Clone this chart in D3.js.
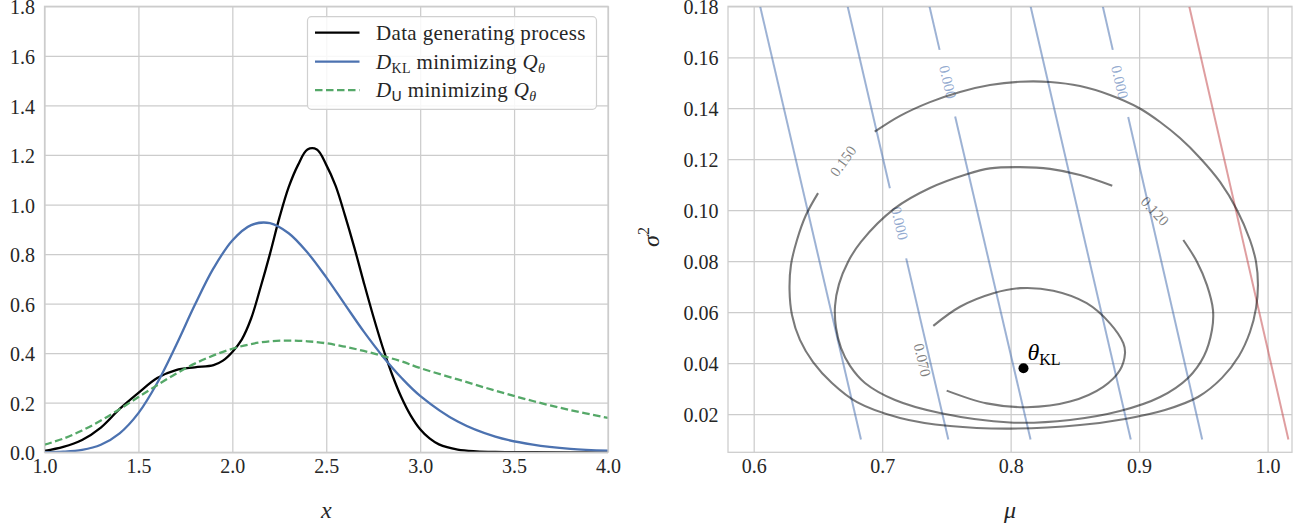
<!DOCTYPE html>
<html><head><meta charset="utf-8">
<script src="https://cdn.jsdelivr.net/npm/d3@7"></script>
<style>
body{margin:0;background:#fff;}
svg{display:block;font-family:"Liberation Serif","DejaVu Serif",serif;}
</style></head><body>
<svg id="chart" width="1299" height="529"></svg>
<script>
// ---------------- DATA ----------------
const xTicksLeft = [1.0, 1.5, 2.0, 2.5, 3.0, 3.5, 4.0];
const yTicksLeft = [0.0, 0.2, 0.4, 0.6, 0.8, 1.0, 1.2, 1.4, 1.6, 1.8];
const muTicks = [0.6, 0.7, 0.8, 0.9, 1.0];
const sigmaTicks = [0.02, 0.04, 0.06, 0.08, 0.10, 0.12, 0.14, 0.16, 0.18];

const seriesNames = ["Data generating process", "D_KL minimizing Q_theta", "D_U minimizing Q_theta"];

// data generating process (black)
const dgpX = [1.0, 1.1, 1.2, 1.3, 1.4, 1.5, 1.6, 1.7, 1.8, 1.9, 1.95, 2.0, 2.05, 2.1, 2.15, 2.2, 2.25, 2.3, 2.35, 2.4, 2.45, 2.5, 2.55, 2.6, 2.65, 2.7, 2.75, 2.8, 2.85, 2.9, 2.95, 3.0, 3.05, 3.1, 3.2, 3.3, 3.4, 3.6, 3.8, 4.0];
const dgpY = [0.006, 0.022, 0.05, 0.10, 0.175, 0.24, 0.30, 0.332, 0.343, 0.352, 0.37, 0.405, 0.455, 0.54, 0.665, 0.80, 0.945, 1.07, 1.16, 1.222, 1.222, 1.16, 1.075, 0.955, 0.825, 0.685, 0.55, 0.425, 0.315, 0.222, 0.148, 0.093, 0.056, 0.032, 0.011, 0.004, 0.0015, 0.0003, 0.0001, 0.0];

// fitted densities (blue, green) on a shared x grid
const fitX = [1.0, 1.1, 1.2, 1.3, 1.4, 1.5, 1.6, 1.7, 1.8, 1.9, 2.0, 2.1, 2.2, 2.3, 2.4, 2.5, 2.6, 2.7, 2.8, 2.9, 3.0, 3.2, 3.4, 3.6, 3.8, 4.0];
const klY = [0.0004, 0.0022, 0.0095, 0.0304, 0.0765, 0.158, 0.2795, 0.431, 0.594, 0.743, 0.855, 0.917, 0.925, 0.884, 0.806, 0.706, 0.596, 0.487, 0.388, 0.301, 0.228, 0.124, 0.063, 0.031, 0.014, 0.0065];
const uY = [0.031, 0.055, 0.088, 0.128, 0.174, 0.223, 0.271, 0.317, 0.358, 0.391, 0.418, 0.437, 0.448, 0.451, 0.448, 0.440, 0.426, 0.409, 0.389, 0.367, 0.340, 0.294, 0.249, 0.207, 0.170, 0.139];

// right panel: contour levels of the objective (gray), [mu, sigma^2]
const contour070 = [[0.7398,0.0546],[0.7606,0.0621],[0.7865,0.0674],[0.8073,0.0694],[0.8332,0.0684],[0.8592,0.0635],[0.8773,0.0556],[0.8877,0.0478],[0.8890,0.0438],[0.8851,0.0373],[0.8721,0.0307],[0.8462,0.0249],[0.8125,0.0227],[0.7814,0.0242],[0.7502,0.0292]];
const contour120 = [[0.8791,0.1096],[0.8540,0.1138],[0.8306,0.1162],[0.8073,0.1169],[0.7839,0.1164],[0.7658,0.1141],[0.7372,0.1087],[0.7098,0.1007],[0.6835,0.0876],[0.6734,0.0797],[0.6664,0.0710],[0.6633,0.0624],[0.6641,0.0538],[0.6680,0.0459],[0.6750,0.0389],[0.6866,0.0322],[0.7100,0.0255],[0.7450,0.0204],[0.7995,0.0167],[0.8462,0.0177],[0.8851,0.0212],[0.9163,0.0267],[0.9381,0.0342],[0.9505,0.0428],[0.9567,0.0530],[0.9575,0.0608],[0.9528,0.0706],[0.9451,0.0797],[0.9344,0.0883]];
const contour150 = [[0.6942,0.1308],[0.7139,0.1370],[0.7372,0.1424],[0.7606,0.1464],[0.7839,0.1491],[0.8073,0.1504],[0.8306,0.1503],[0.8540,0.1487],[0.8773,0.1452],[0.8999,0.1401],[0.9163,0.1346],[0.9318,0.1283],[0.9474,0.1205],[0.9630,0.1111],[0.9762,0.1001],[0.9863,0.0883],[0.9910,0.0797],[0.9925,0.0706],[0.9910,0.0616],[0.9863,0.0522],[0.9777,0.0428],[0.9645,0.0342],[0.9458,0.0267],[0.9201,0.0216],[0.8890,0.0181],[0.8540,0.0157],[0.7995,0.0143],[0.7528,0.0153],[0.7139,0.0185],[0.6804,0.0247],[0.6609,0.0322],[0.6462,0.0404],[0.6360,0.0491],[0.6298,0.0589],[0.6279,0.0687],[0.6290,0.0785],[0.6337,0.0883],[0.6407,0.0981],[0.6501,0.1067]];
const contourLabels = [
  {text: "0.070", mu: 0.7314, s2: 0.0412},
  {text: "0.120", mu: 0.9124, s2: 0.0997},
  {text: "0.150", mu: 0.6695, s2: 0.1193}
];

// constraint lines (blue), segments [mu, sigma^2]
const blueSegments = [
  [[0.6050,0.18],[0.6835,0.01]],
  [[0.6731,0.18],[0.7060,0.1086]],
  [[0.7187,0.0811],[0.7515,0.01]],
  [[0.7368,0.18],[0.7447,0.1629]],
  [[0.7568,0.1368],[0.8155,0.01]],
  [[0.8155,0.18],[0.8935,0.01]],
  [[0.8717,0.18],[0.8795,0.1629]],
  [[0.8915,0.1366],[0.9491,0.01]]
];
const blueLabels = [
  {text: "0.000", mu: 0.7136, s2: 0.0949},
  {text: "0.000", mu: 0.7512, s2: 0.1503},
  {text: "0.000", mu: 0.8851, s2: 0.1503}
];
const redSegment = [[0.9390,0.18],[1.0162,0.01]];
const thetaKL = [0.81, 0.038];

// ---------------- LAYOUT ----------------
const svg = d3.select("#chart");
const serif = "'Liberation Serif','DejaVu Serif',serif";
const L = {left:44.5, right:608, top:6.3, bottom:452.3};
const R = {left:728, right:1292, top:6.3, bottom:452.3};
const xL = d3.scaleLinear().domain([1,4]).range([L.left,L.right]);
const yL = d3.scaleLinear().domain([0,1.8]).range([L.bottom,L.top]);
const xR = d3.scaleLinear().domain([0.58,1.019]).range([R.left,R.right]);
const yR = d3.scaleLinear().domain([0.005,0.18]).range([R.bottom,R.top]);

const gridColor = "#cccccc";
const textColor = "#262626";

function drawAxes(box, xs, ys, xt, yt, xfmt, yfmt){
  const g = svg.append("g");
  const ax = g.append("g").attr("transform",`translate(0,${box.bottom})`)
    .call(d3.axisBottom(xs).tickValues(xt).tickSize(-(box.bottom-box.top)).tickPadding(7).tickFormat(xfmt));
  const ay = g.append("g").attr("transform",`translate(${box.left},0)`)
    .call(d3.axisLeft(ys).tickValues(yt).tickSize(-(box.right-box.left)).tickPadding(9.5).tickFormat(yfmt));
  [ax, ay].forEach(a=>{
    a.attr("font-family", serif).attr("font-size", 20);
    a.select(".domain").remove();
    a.selectAll(".tick line").attr("stroke",gridColor).attr("stroke-width",1.25);
    a.selectAll(".tick text").attr("fill",textColor).attr("font-family", serif).attr("font-size",20);
  });
  ay.selectAll(".tick text").attr("dy","0.38em");
  return g;
}
drawAxes(L, xL, yL, xTicksLeft, yTicksLeft, d3.format(".1f"), d3.format(".1f"));
drawAxes(R, xR, yR, muTicks, sigmaTicks, d3.format(".1f"), d3.format(".2f"));

// clip paths
const defs = svg.append("defs");
defs.append("clipPath").attr("id","clipL").append("rect")
  .attr("x",L.left).attr("y",L.top).attr("width",L.right-L.left).attr("height",L.bottom-L.top);
defs.append("clipPath").attr("id","clipR").append("rect")
  .attr("x",R.left).attr("y",R.top).attr("width",R.right-R.left).attr("height",R.bottom-R.top);

// ---------------- LEFT PANEL ----------------
const gl = svg.append("g").attr("clip-path","url(#clipL)");
const lineL = d3.line().x(d=>xL(d[0])).y(d=>yL(d[1])).curve(d3.curveCatmullRom.alpha(0.5));
const colors = ["#000000", "#4c72b0", "#55a868"];
gl.append("path").datum(dgpX.map((x,i)=>[x,dgpY[i]])).attr("d",lineL)
  .attr("fill","none").attr("stroke",colors[0]).attr("stroke-width",2.3);
gl.append("path").datum(fitX.map((x,i)=>[x,klY[i]])).attr("d",lineL)
  .attr("fill","none").attr("stroke",colors[1]).attr("stroke-width",2.3);
gl.append("path").datum(fitX.map((x,i)=>[x,uY[i]])).attr("d",lineL)
  .attr("fill","none").attr("stroke",colors[2]).attr("stroke-width",2.3).attr("stroke-dasharray","7.5,3.5");

// legend
const lg = svg.append("g").attr("font-family", serif);
lg.append("rect").attr("x",307.5).attr("y",16.7).attr("width",289).attr("height",92.6).attr("rx",4)
  .attr("fill","white").attr("fill-opacity",0.85).attr("stroke","#d0d0d0").attr("stroke-width",1.2);
const rowsY = [32.7, 61.7, 90.2];
rowsY.forEach((yy,i)=>{
  const ln = lg.append("line").attr("x1",315).attr("x2",359.5).attr("y1",yy).attr("y2",yy)
    .attr("stroke",colors[i]).attr("stroke-width",2.3);
  if(i===2) ln.attr("stroke-dasharray","7.5,3.5");
});
function legText(yy){
  return lg.append("text").attr("x",376).attr("y",yy+7).attr("font-size",21)
    .attr("letter-spacing","0.35").attr("fill",textColor);
}
legText(rowsY[0]).text(seriesNames[0]);
{
  const t = legText(rowsY[1]);
  t.append("tspan").attr("font-style","italic").text("D");
  t.append("tspan").attr("font-size",14).attr("dy",4).text("KL");
  t.append("tspan").attr("dy",-4).text(" minimizing ");
  t.append("tspan").attr("font-style","italic").text("Q");
  t.append("tspan").attr("font-style","italic").attr("font-size",14).attr("dy",4).text("θ");
}
{
  const t = legText(rowsY[2]);
  t.append("tspan").attr("font-style","italic").text("D");
  t.append("tspan").attr("font-size",14).attr("font-family","'DejaVu Sans',sans-serif").attr("dy",4).text("U");
  t.append("tspan").attr("dy",-4).text(" minimizing ");
  t.append("tspan").attr("font-style","italic").text("Q");
  t.append("tspan").attr("font-style","italic").attr("font-size",14).attr("dy",4).text("θ");
}

// axis label x
svg.append("text").attr("x",(L.left+L.right)/2).attr("y",518).attr("text-anchor","middle")
  .attr("font-family",serif).attr("font-size",24).attr("font-style","italic").attr("fill",textColor).text("x");

// ---------------- RIGHT PANEL ----------------
const gr = svg.append("g").attr("clip-path","url(#clipR)").attr("font-family",serif);
const segLine = d3.line().x(d=>xR(d[0])).y(d=>yR(d[1]));
blueSegments.forEach(s=>{
  gr.append("path").datum(s).attr("d",segLine).attr("fill","none")
    .attr("stroke","#4c72b0").attr("stroke-opacity",0.55).attr("stroke-width",2);
});
gr.append("path").datum(redSegment).attr("d",segLine).attr("fill","none")
  .attr("stroke","#c44e52").attr("stroke-opacity",0.55).attr("stroke-width",2);
blueLabels.forEach(lb=>{
  gr.append("text").attr("transform",`translate(${xR(lb.mu)},${yR(lb.s2)}) rotate(77)`)
    .attr("text-anchor","middle").attr("dy","0.35em").attr("font-size",15)
    .attr("fill","#4c72b0").attr("fill-opacity",0.6).text(lb.text);
});
const cLine = d3.line().x(d=>xR(d[0])).y(d=>yR(d[1])).curve(d3.curveCatmullRom.alpha(0.5));
[contour070, contour120, contour150].forEach(c=>{
  gr.append("path").datum(c).attr("d",cLine).attr("fill","none")
    .attr("stroke","#000").attr("stroke-opacity",0.52).attr("stroke-width",2.1);
});
const contourRot = [77, 47, -54];
contourLabels.forEach((lb,i)=>{
  gr.append("text").attr("transform",`translate(${xR(lb.mu)},${yR(lb.s2)}) rotate(${contourRot[i]})`)
    .attr("text-anchor","middle").attr("dy","0.35em").attr("font-size",15)
    .attr("fill","#000").attr("fill-opacity",0.5).text(lb.text);
});
gr.append("circle").attr("cx",xR(thetaKL[0])).attr("cy",yR(thetaKL[1])).attr("r",5).attr("fill","#000");
{
  const t = gr.append("text").attr("x",xR(thetaKL[0])+4).attr("y",yR(thetaKL[1])-8).attr("fill","#000");
  t.append("tspan").attr("font-size",24).attr("font-style","italic").text("θ");
  t.append("tspan").attr("font-size",16).attr("dy",5).text("KL");
}

svg.append("text").attr("x",(R.left+R.right)/2).attr("y",518).attr("text-anchor","middle")
  .attr("font-family",serif).attr("font-size",24).attr("font-style","italic").attr("fill",textColor).text("μ");
{
  const t = svg.append("text").attr("transform","translate(659,237) rotate(-90)").attr("text-anchor","middle")
    .attr("font-family",serif).attr("fill",textColor);
  t.append("tspan").attr("font-size",24).attr("font-style","italic").text("σ");
  t.append("tspan").attr("font-size",16).attr("dy",-10).text("2");
}

// spines (light gray, on top)
[L,R].forEach(b=>{
  svg.append("rect").attr("x",b.left).attr("y",b.top).attr("width",b.right-b.left).attr("height",b.bottom-b.top)
    .attr("fill","none").attr("stroke",gridColor).attr("stroke-width",1.25);
});
</script>
</body></html>
